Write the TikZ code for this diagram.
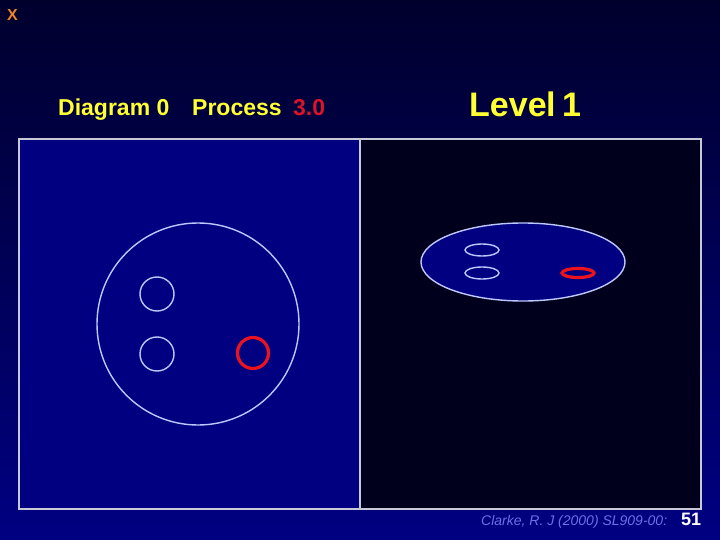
\documentclass[tikz,border=0pt]{standalone}
\usepackage{fontspec}
\setmainfont{Liberation Sans}
\definecolor{navy}{RGB}{0,0,128}
\definecolor{darkpanel}{RGB}{0,0,28}
\definecolor{ylw}{RGB}{255,255,50}
\definecolor{redtxt}{RGB}{220,20,40}
\definecolor{periw}{RGB}{110,110,235}
\definecolor{orng}{RGB}{240,130,40}
\definecolor{bgtop}{RGB}{0,0,45}
\definecolor{bgbot}{RGB}{0,0,130}
\definecolor{bordr}{RGB}{200,200,215}
\definecolor{thinc}{RGB}{190,200,255}
\definecolor{redln}{RGB}{235,20,30}
\begin{document}
\begin{tikzpicture}[x=1pt,y=-1pt,
  panelborder/.style={draw=bordr,line width=2.2pt},
  thinline/.style={draw=thinc,line width=1.4pt},
  redline/.style={draw=redln,line width=3.2pt},
  lbl/.style={inner sep=0pt,anchor=base west},
  headA/.style={lbl,text=ylw,font=\bfseries\fontsize{23}{23}\selectfont},
  headB/.style={lbl,text=ylw,font=\bfseries\fontsize{34}{34}\selectfont}]
\useasboundingbox (0,0) rectangle (720,540);
\shade[top color=bgtop, bottom color=bgbot] (0,0) rectangle (720,540);
% panels
\fill[navy] (19,139) rectangle (360,509);
\fill[darkpanel] (360,139) rectangle (701,509);
\draw[panelborder] (19,139) rectangle (701,509);
\draw[panelborder] (360,139) -- (360,509);
% left diagram
\node[thinline,circle,minimum size=202pt,inner sep=0pt] (big) at (198,324) {};
\node[thinline,circle,minimum size=34pt,inner sep=0pt] (c1) at (157,294) {};
\node[thinline,circle,minimum size=34pt,inner sep=0pt] (c2) at (157,354) {};
\node[redline,circle,minimum size=31pt,inner sep=0pt] (c3) at (253,353) {};
% right diagram
\fill[navy] (523,262) ellipse [x radius=102, y radius=39];
\draw[thinline] (523,262) ellipse [x radius=102, y radius=39];
\draw[thinline] (482,250) ellipse [x radius=17, y radius=6];
\draw[thinline] (482,273) ellipse [x radius=17, y radius=6];
\draw[redline] (578,273) ellipse [x radius=16, y radius=4.5];
% texts
\node[lbl,text=orng,font=\bfseries\fontsize{16}{16}\selectfont] (x) at (7,21) {X};
\node[headA] (t1a) at (58,116) {Diagram 0};
\node[headA] (t1b) at (192,116) {Process};
\node[headA,text=redtxt] (t1c) at (293,116) {3.0};
\node[headB] (t2a) at (469,117) {Leve};
\node[headB] (t2b) at (546,117) {l};
\node[headB] (t2c) at (562,117) {1};
\node[lbl,text=periw,font=\itshape\fontsize{14}{14}\selectfont] (foot) at (481,525) {Clarke, R. J (2000) SL909-00:};
\node[lbl,text=white,font=\bfseries\fontsize{18}{18}\selectfont] (num) at (681,525) {51};
\end{tikzpicture}
\end{document}
